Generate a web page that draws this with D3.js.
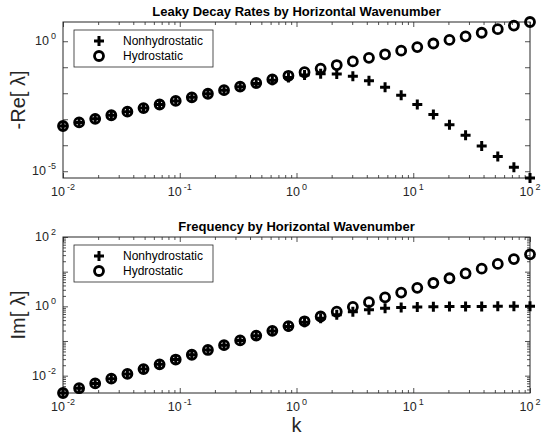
<!DOCTYPE html>
<html>
<head>
<meta charset="utf-8">
<script src="https://cdn.jsdelivr.net/npm/d3@7"></script>
<style>
  body { margin: 0; background: #fff; }
  svg { display: block; font-family: "Liberation Sans", Arial, sans-serif; }
</style>
</head>
<body>
<div id="chart"></div>
<script>
// horizontal wavenumber (30 log-spaced samples)
const k = [0.01, 0.01374, 0.01887, 0.02593, 0.03562, 0.04894, 0.06723, 0.09237, 0.1269, 0.1743,
  0.2395, 0.3290, 0.4520, 0.6210, 0.8532, 1.172, 1.610, 2.212, 3.039, 4.175,
  5.736, 7.880, 10.83, 14.87, 20.43, 28.07, 38.57, 52.98, 72.79, 100];

// -Re[lambda]
const decayNonhydro = [0.00055, 0.000756, 0.001037, 0.001425, 0.001957, 0.002688, 0.003689, 0.005063, 0.006946, 0.00953,
  0.01302, 0.01772, 0.02388, 0.03167, 0.04078, 0.04983, 0.05585, 0.05487, 0.04517, 0.03052,
  0.01714, 0.00834, 0.003681, 0.001531, 0.000615, 0.000243, 0.0000946, 0.0000367, 0.0000142, 0.0000055];
const decayHydro = [0.00055, 0.000756, 0.001038, 0.001426, 0.001959, 0.002692, 0.003698, 0.00508, 0.00698, 0.009587,
  0.01317, 0.0181, 0.02486, 0.03416, 0.04693, 0.06446, 0.08855, 0.1217, 0.1671, 0.2296,
  0.3155, 0.4334, 0.5957, 0.8179, 1.124, 1.544, 2.121, 2.914, 4.003, 5.5];

// Im[lambda]
const freqNonhydro = [0.003162, 0.004344, 0.005968, 0.008199, 0.01126, 0.01548, 0.02125, 0.0292, 0.0401, 0.05505,
  0.07552, 0.1034, 0.1415, 0.1927, 0.2605, 0.3475, 0.4537, 0.5732, 0.6929, 0.797,
  0.8758, 0.9281, 0.9601, 0.9783, 0.9883, 0.9937, 0.9966, 0.9982, 0.9991, 0.9995];
const freqHydro = [0.003162, 0.004344, 0.005968, 0.0082, 0.01126, 0.01548, 0.02126, 0.02921, 0.04013, 0.05513,
  0.07574, 0.104, 0.1429, 0.1964, 0.2698, 0.3706, 0.5091, 0.6995, 0.961, 1.32,
  1.814, 2.492, 3.424, 4.703, 6.461, 8.876, 12.2, 16.75, 23.02, 31.62];

const xLabelExps = [-2, -1, 0, 1, 2];
const decayLabelExps = [-5, 0];
const freqLabelExps = [-2, 0, 2];
const seriesNames = ['Nonhydrostatic', 'Hydrostatic'];

const width = 545;
const height = 438;
const plotLeft = 63;
const plotW = 467;
const plotH = 156;
const axisColor = '#262626';

const svg = d3.select('#chart')
              .append('svg')
              .attr('width', width)
              .attr('height', height);

const x = d3.scaleLog().domain([k[0], k[k.length - 1]]).range([0, plotW]);

// decade ticks and 2..9 minor ticks inside a log domain
function decades(lo, hi) {
    const out = [];
    for (let e = Math.ceil(Math.log10(lo) - 1e-9); e <= Math.floor(Math.log10(hi) + 1e-9); e++) out.push(Math.pow(10, e));
    return out;
}
function minors(lo, hi) {
    const out = [];
    for (let e = Math.floor(Math.log10(lo)); e < Math.ceil(Math.log10(hi)); e++) {
        for (let m = 2; m <= 9; m++) {
            const v = m * Math.pow(10, e);
            if (v > lo && v < hi) out.push(v);
        }
    }
    return out;
}

// "10" with a raised exponent
function powerLabel(sel, e) {
    sel.append('tspan').text('10');
    sel.append('tspan')
       .attr('font-size', 9)
       .attr('dx', 2)
       .attr('dy', -6)
       .text(e);
}

function drawPanel(cfg) {
    const g = svg.append('g').attr('transform', `translate(${plotLeft},${cfg.top})`);
    const y = d3.scaleLog().domain(cfg.yDomain).range([plotH, 0]);

    const xMajor = decades(...x.domain());
    const xMinor = minors(...x.domain());
    const yMajor = decades(...cfg.yDomain);
    const yMinor = cfg.yMinor ? minors(...cfg.yDomain) : [];

    const axes = [
        [d3.axisBottom(x).tickValues(xMajor).tickSize(-5), `translate(0,${plotH})`],
        [d3.axisBottom(x).tickValues(xMinor).tickSize(-3), `translate(0,${plotH})`],
        [d3.axisTop(x).tickValues(xMajor).tickSize(-5), null],
        [d3.axisTop(x).tickValues(xMinor).tickSize(-3), null],
        [d3.axisLeft(y).tickValues(yMajor).tickSize(-5), null],
        [d3.axisLeft(y).tickValues(yMinor).tickSize(-3), null],
        [d3.axisRight(y).tickValues(yMajor).tickSize(-5), `translate(${plotW},0)`],
        [d3.axisRight(y).tickValues(yMinor).tickSize(-3), `translate(${plotW},0)`]
    ];
    axes.forEach(([ax, tr]) => {
        const a = g.append('g').call(ax.tickFormat(''));
        if (tr) a.attr('transform', tr);
        a.select('.domain').remove();
        a.selectAll('.tick line').attr('stroke', axisColor).attr('stroke-width', 0.8);
    });

    g.append('rect')
     .attr('width', plotW)
     .attr('height', plotH)
     .attr('fill', 'none')
     .attr('stroke', axisColor)
     .attr('stroke-width', 1);

    // tick labels
    g.selectAll('.xlab')
     .data(xLabelExps)
     .join('text')
     .attr('class', 'xlab')
     .attr('x', e => x(Math.pow(10, e)))
     .attr('y', plotH + 18)
     .attr('text-anchor', 'middle')
     .attr('font-size', 12.5)
     .attr('fill', axisColor)
     .each(function(e) { powerLabel(d3.select(this), e); });

    g.selectAll('.ylab')
     .data(cfg.labelExps)
     .join('text')
     .attr('class', 'ylab')
     .attr('x', -7)
     .attr('y', e => y(Math.pow(10, e)) + 4)
     .attr('text-anchor', 'end')
     .attr('font-size', 12.5)
     .attr('fill', axisColor)
     .each(function(e) { powerLabel(d3.select(this), e); });

    // y axis label
    g.append('text')
     .attr('transform', `translate(-38,${plotH / 2}) rotate(-90)`)
     .attr('text-anchor', 'middle')
     .attr('font-size', 20)
     .attr('fill', axisColor)
     .text(cfg.yLabel);

    // title
    g.append('text')
     .attr('x', plotW / 2)
     .attr('y', -6)
     .attr('text-anchor', 'middle')
     .attr('font-size', 13)
     .attr('font-weight', 'bold')
     .attr('fill', '#000')
     .text(cfg.title);

    // markers
    const plus = 'M-5,0H5M0,-5V5';
    g.selectAll('.plus')
     .data(k.map((kv, i) => [kv, cfg.nonhydro[i]]))
     .join('path')
     .attr('class', 'plus')
     .attr('d', plus)
     .attr('transform', d => `translate(${x(d[0])},${y(d[1])})`)
     .attr('stroke', '#000')
     .attr('stroke-width', 3);

    g.selectAll('.ring')
     .data(k.map((kv, i) => [kv, cfg.hydro[i]]))
     .join('circle')
     .attr('class', 'ring')
     .attr('cx', d => x(d[0]))
     .attr('cy', d => y(d[1]))
     .attr('r', 4.5)
     .attr('fill', 'none')
     .attr('stroke', '#000')
     .attr('stroke-width', 2.8);

    // legend
    const lg = g.append('g').attr('transform', 'translate(11,8)');
    lg.append('rect')
      .attr('width', 139)
      .attr('height', 37)
      .attr('fill', '#fff')
      .attr('stroke', axisColor)
      .attr('stroke-width', 0.8);
    seriesNames.forEach((name, i) => {
        const ly = 11 + i * 15;
        if (i === 0) {
            lg.append('path').attr('d', plus).attr('transform', `translate(25,${ly})`)
              .attr('stroke', '#000').attr('stroke-width', 3);
        } else {
            lg.append('circle').attr('cx', 25).attr('cy', ly).attr('r', 4.5)
              .attr('fill', 'none').attr('stroke', '#000').attr('stroke-width', 2.8);
        }
        lg.append('text')
          .attr('x', 49)
          .attr('y', ly + 4)
          .attr('font-size', 12)
          .attr('fill', '#000')
          .text(name);
    });
}

drawPanel({
    top: 22,
    title: 'Leaky Decay Rates by Horizontal Wavenumber',
    yLabel: '-Re[ λ]',
    yDomain: d3.extent(decayNonhydro.concat(decayHydro)),
    yMinor: false,
    labelExps: decayLabelExps,
    nonhydro: decayNonhydro,
    hydro: decayHydro
});

drawPanel({
    top: 237,
    title: 'Frequency by Horizontal Wavenumber',
    yLabel: 'Im[ λ]',
    yDomain: [d3.min(freqNonhydro.concat(freqHydro)), 100],
    yMinor: true,
    labelExps: freqLabelExps,
    nonhydro: freqNonhydro,
    hydro: freqHydro
});

// shared x axis label
svg.append('text')
   .attr('x', plotLeft + plotW / 2)
   .attr('y', 432)
   .attr('text-anchor', 'middle')
   .attr('font-size', 20)
   .attr('fill', axisColor)
   .text('k');
</script>
</body>
</html>
